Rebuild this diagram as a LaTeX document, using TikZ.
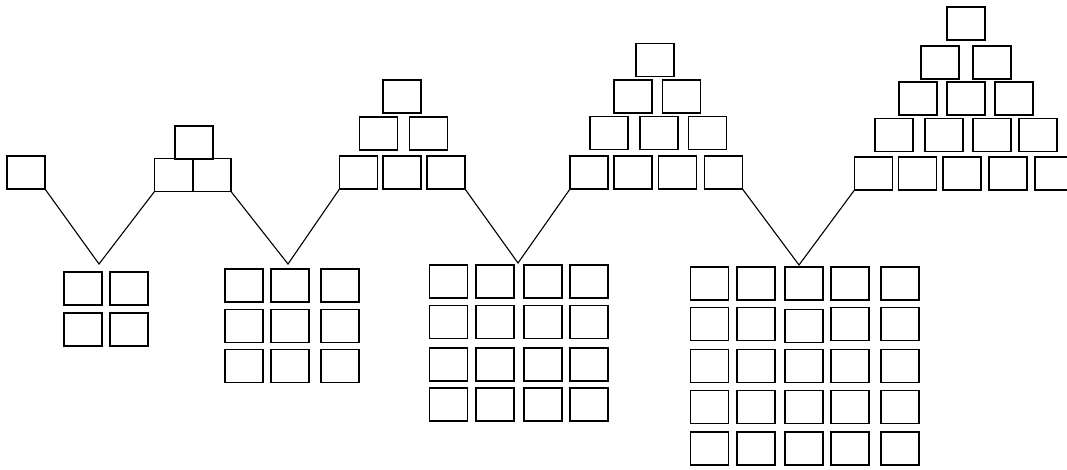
\documentclass[tikz,border=0pt]{standalone}
\begin{document}
\begin{tikzpicture}[x=1pt,y=-1pt,
  box/.style={draw,line width=1.4pt,minimum width=38pt,minimum height=33pt,inner sep=0pt,outer sep=0pt},
  link/.style={line width=1.1pt,line join=miter}]
\useasboundingbox (0,0) rectangle (1067,469);
\clip (0,0) rectangle (1067,469);
% pyramid 1
\node[box] (p1a) at (26,172.5) {};
% pyramid 2
\node[box] (p2a) at (173.5,175) {};
\node[box] (p2b) at (212,175) {};
\node[box] (p2t) at (194,142.5) {};
% pyramid 3
\foreach \x/\n in {358.5/a,402/b,446/c} \node[box] (p3\n) at (\x,172.5) {};
\foreach \x/\n in {378.5/d,428.5/e} \node[box] (p3\n) at (\x,133.5) {};
\node[box] (p3f) at (402,96.5) {};
% pyramid 4
\foreach \x/\n in {589/a,633/b,677.5/c,723.5/d} \node[box] (p4\n) at (\x,172.5) {};
\foreach \x/\n in {609/e,659/f,707.5/g} \node[box] (p4\n) at (\x,133) {};
\foreach \x/\n in {633/h,681.5/i} \node[box] (p4\n) at (\x,96.5) {};
\node[box] (p4j) at (655,60) {};
% pyramid 5
\foreach \x/\n in {873.5/a,917.5/b,962/c,1008/d,1054/e} \node[box] (p5\n) at (\x,173.5) {};
\foreach \x/\n in {894/f,944/g,992/h,1038/i} \node[box] (p5\n) at (\x,135) {};
\foreach \x/\n in {918/j,966/k,1014/l} \node[box] (p5\n) at (\x,98.5) {};
\foreach \x/\n in {940/m,992/n} \node[box] (p5\n) at (\x,62.5) {};
\node[box] (p5o) at (966,23.5) {};
% grid 1 (2x2)
\foreach \x [count=\i] in {83,129}
  \foreach \y [count=\j] in {288.5,329.5}
    \node[box] (g1-\i-\j) at (\x,\y) {};
% grid 2 (3x3)
\foreach \x [count=\i] in {244,290,340}
  \foreach \y [count=\j] in {285.5,326,366}
    \node[box] (g2-\i-\j) at (\x,\y) {};
% grid 3 (4x4)
\foreach \x [count=\i] in {448.5,495,543,589}
  \foreach \y [count=\j] in {281.5,322,364.5,404.5}
    \node[box] (g3-\i-\j) at (\x,\y) {};
% grid 4 (5x5)
\foreach \x [count=\i] in {709.5,756,804,850,900}
  \foreach \y [count=\j] in {283.5,324,366,407,448.5}
    {\ifnum\i=3 \ifnum\j=2 \def\yy{326}\else\def\yy{\y}\fi\else\def\yy{\y}\fi
     \node[box] (g4-\i-\j) at (\x,\yy) {};}
% vertices
\coordinate (v1) at (99,264);
\coordinate (v2) at (288,264);
\coordinate (v3) at (518,263);
\coordinate (v4) at (799,265);
% connectors
\draw[link] (p1a.south east) -- (v1) -- (p2a.south west);
\draw[link] (p2b.south east) -- (v2) -- (p3a.south west);
\draw[link] (p3c.south east) -- (v3) -- (p4a.south west);
\draw[link] (p4d.south east) -- (v4) -- (p5a.south west);
\end{tikzpicture}
\end{document}
